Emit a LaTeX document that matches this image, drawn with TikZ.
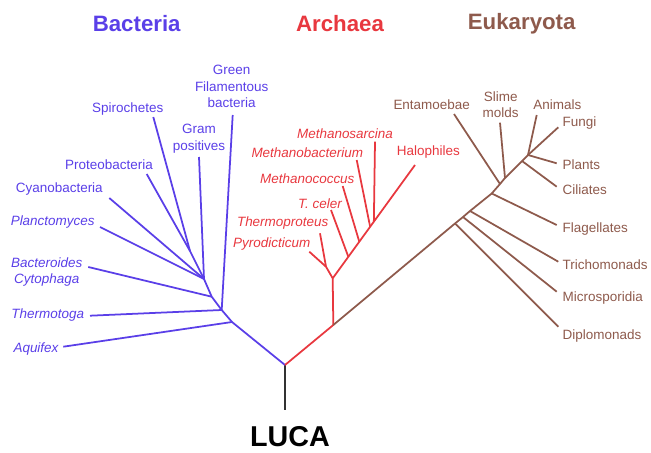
\documentclass[tikz,border=0pt]{standalone}
\usepackage{fontspec}
\setmainfont{Liberation Sans}
\usetikzlibrary{calc}
\definecolor{bacblue}{HTML}{5A3FE8}
\definecolor{arcred}{HTML}{E8383F}
\definecolor{eukbrown}{HTML}{8E5A4C}
\definecolor{rootgrey}{HTML}{333333}

\tikzset{
  branch/.style={line width=1.5pt,line join=round},
  taxon/.style={inner sep=0pt,align=center,font=\fontsize{11.5}{14}\selectfont},
  taxonit/.style={taxon,font=\fontsize{11.5}{14}\selectfont\itshape},
  domainhead/.style={inner sep=0pt,font=\fontsize{19}{20}\selectfont\bfseries},
}

\begin{document}
\begin{tikzpicture}[x=0.03cm,y=-0.03cm]
  \useasboundingbox (0,0) rectangle (651,452);
  \node[domainhead,text=bacblue] (bachead) at (136.7,23.3) {Bacteria};
  \node[domainhead,text=arcred] (archead) at (340,23.3) {Archaea};
  \node[domainhead,text=eukbrown] (eukhead) at (521.7,23.3) {Eukaryota};

  \coordinate (luca) at (285,365);
  \coordinate (lucaend) at (285,410);
  \node[domainhead,text=black,font=\fontsize{24.5}{26}\selectfont\bfseries] (lucalbl) at (290,437) {LUCA};
  \draw[branch,rootgrey] (luca) -- (lucaend);

  % bacteria
  \coordinate (b1) at (204,279);
  \coordinate (bsp) at (190,251);
  \coordinate (b2) at (211.7,296.7);
  \coordinate (b3) at (221.7,310);
  \coordinate (b4) at (232,322);
  \coordinate (greentip) at (232.7,115);
  \coordinate (spirotip) at (153.3,117);
  \coordinate (gramtip) at (199,157);
  \coordinate (proteotip) at (146.7,174);
  \coordinate (cyanotip) at (109.3,198);
  \coordinate (planctotip) at (100,227);
  \coordinate (bacterotip) at (88.3,267);
  \coordinate (thermotogatip) at (90,315.7);
  \coordinate (aquifextip) at (63.3,346.7);
  \draw[branch,bacblue] (luca) -- (b4) -- (b3) -- (b2) -- (b1) -- (bsp) -- (spirotip);
  \draw[branch,bacblue] (bsp) -- (proteotip);
  \draw[branch,bacblue] (b1) -- (gramtip);
  \draw[branch,bacblue] (b1) -- (cyanotip);
  \draw[branch,bacblue] (b1) -- (planctotip);
  \draw[branch,bacblue] (b2) -- (bacterotip);
  \draw[branch,bacblue] (b3) -- (thermotogatip);
  \draw[branch,bacblue] (b3) -- (greentip);
  \draw[branch,bacblue] (b4) -- (aquifextip);
  \node[taxon,text=bacblue] (green) at (231.7,86.5) {Green\\Filamentous\\bacteria};
  \node[taxon,text=bacblue] (spiro) at (127.7,109) {Spirochetes};
  \node[taxon,text=bacblue] (gram) at (199,138.5) {Gram\\positives};
  \node[taxon,text=bacblue] (proteo) at (109,165) {Proteobacteria};
  \node[taxon,text=bacblue] (cyano) at (59.3,189.3) {Cyanobacteria};
  \node[taxonit,text=bacblue] (plancto) at (52.7,222.3) {Planctomyces};
  \node[taxonit,text=bacblue] (bactero) at (46.7,272) {Bacteroides\\Cytophaga};
  \node[taxonit,text=bacblue] (thermotoga) at (47.7,315) {Thermotoga};
  \node[taxonit,text=bacblue] (aquifex) at (36,349.3) {Aquifex};

  % archaea
  \coordinate (a1) at (333.3,325);
  \coordinate (a2) at (332.7,278.3);
  \coordinate (a3) at (326,266.7);
  \coordinate (halotip) at (415,165);
  \coordinate (pyrotip) at (309.3,251.7);
  \coordinate (thermoprotip) at (320,233.3);
  \coordinate (tcelertip) at (331,210);
  \coordinate (mcoccustip) at (342.7,186);
  \coordinate (mbacttip) at (356.7,160);
  \coordinate (msarcinatip) at (375,141.7);
  \coordinate (atc) at ($(a2)!0.19!(halotip)$);
  \coordinate (amc) at ($(a2)!0.323!(halotip)$);
  \coordinate (amb) at ($(a2)!0.455!(halotip)$);
  \coordinate (ams) at ($(a2)!0.5!(halotip)$);
  \draw[branch,arcred] (luca) -- (a1) -- (a2) -- (halotip);
  \draw[branch,arcred] (a2) -- (a3) -- (pyrotip);
  \draw[branch,arcred] (a3) -- (thermoprotip);
  \draw[branch,arcred] (atc) -- (tcelertip);
  \draw[branch,arcred] (amc) -- (mcoccustip);
  \draw[branch,arcred] (amb) -- (mbacttip);
  \draw[branch,arcred] (ams) -- (msarcinatip);
  \node[taxonit,text=arcred] (msarcina) at (345,133.3) {Methanosarcina};
  \node[taxonit,text=arcred] (mbact) at (307.3,152.3) {Methanobacterium};
  \node[taxon,text=arcred] (halo) at (428.3,152.3) {Halophiles};
  \node[taxonit,text=arcred] (mcoccus) at (307.3,178.3) {Methanococcus};
  \node[taxonit,text=arcred] (tceler) at (320,203.3) {T. celer};
  \node[taxonit,text=arcred] (thermopro) at (282.7,223.3) {Thermoproteus};
  \node[taxonit,text=arcred] (pyro) at (271.7,244) {Pyrodicticum};

  % eukaryota
  \coordinate (e1) at (455,223.5);
  \coordinate (e2) at (463,217);
  \coordinate (e3) at (470,211);
  \coordinate (e4) at (491.7,193.5);
  \coordinate (e5) at (500,184);
  \coordinate (e6) at (505,178);
  \coordinate (e7) at (522,161);
  \coordinate (e8) at (528,155);
  \coordinate (fungitip) at (558.3,127.3);
  \coordinate (diplotip) at (558.3,326.7);
  \coordinate (microtip) at (556.7,291.7);
  \coordinate (trichotip) at (558.3,261.7);
  \coordinate (flagtip) at (556.7,225);
  \coordinate (entatip) at (454,114);
  \coordinate (slimetip) at (500,122.7);
  \coordinate (ciliatip) at (556.7,186.7);
  \coordinate (plantstip) at (556.7,163.3);
  \coordinate (animaltip) at (536.7,115);
  \draw[branch,eukbrown] (a1) -- (e1) -- (e2) -- (e3) -- (e4) -- (e5) -- (e6) -- (e7) -- (e8) -- (fungitip);
  \draw[branch,eukbrown] (e1) -- (diplotip);
  \draw[branch,eukbrown] (e2) -- (microtip);
  \draw[branch,eukbrown] (e3) -- (trichotip);
  \draw[branch,eukbrown] (e4) -- (flagtip);
  \draw[branch,eukbrown] (e5) -- (entatip);
  \draw[branch,eukbrown] (e6) -- (slimetip);
  \draw[branch,eukbrown] (e7) -- (ciliatip);
  \draw[branch,eukbrown] (e8) -- (plantstip);
  \draw[branch,eukbrown] (e8) -- (animaltip);
  \node[taxon,text=eukbrown] (enta) at (431.7,104.3) {Entamoebae};
  \node[taxon,text=eukbrown] (slime) at (500.7,104.7) {Slime\\molds};
  \node[taxon,text=eukbrown] (animal) at (557.3,104.3) {Animals};
  \node[taxon,text=eukbrown,anchor=west] (fungi) at (562.5,122.7) {Fungi};
  \node[taxon,text=eukbrown,anchor=west] (plants) at (562.5,164.3) {Plants};
  \node[taxon,text=eukbrown,anchor=west] (cilia) at (562.5,190) {Ciliates};
  \node[taxon,text=eukbrown,anchor=west] (flag) at (562.5,229) {Flagellates};
  \node[taxon,text=eukbrown,anchor=west] (tricho) at (562.5,265) {Trichomonads};
  \node[taxon,text=eukbrown,anchor=west] (micro) at (562.5,297.7) {Microsporidia};
  \node[taxon,text=eukbrown,anchor=west] (diplo) at (562.5,335.7) {Diplomonads};
\end{tikzpicture}
\end{document}
